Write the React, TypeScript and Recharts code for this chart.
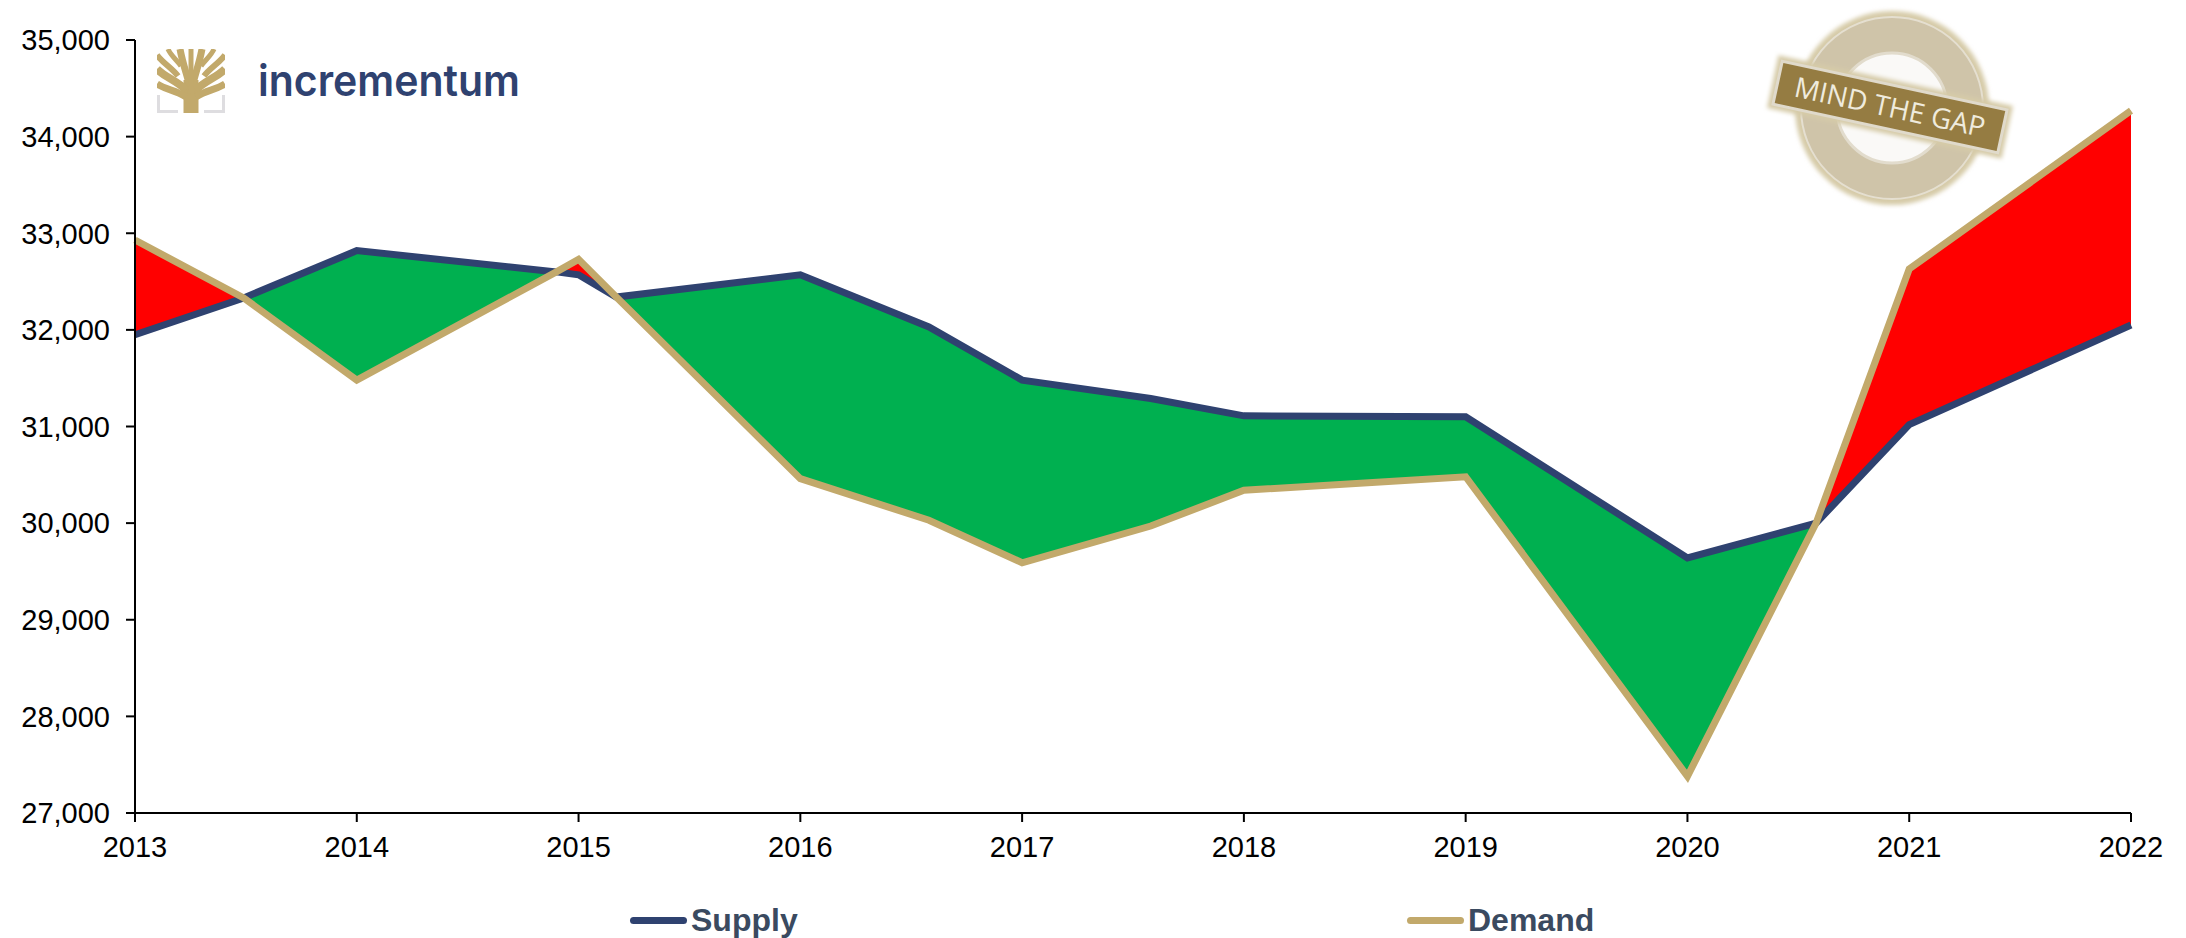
import React from 'react';
import { ComposedChart, Area, Line, XAxis, YAxis, Legend } from 'recharts';

// crossings and the two part-year points sit at fractional years
const years = [2013, 2013.49, 2014, 2014.9, 2015, 2015.17, 2016, 2016.58, 2017, 2017.58, 2018, 2019, 2020, 2020.58, 2021, 2022];
const supply = [31950, 32330, 32820, 32600, 32570, 32340, 32570, 32030, 31480, 31290, 31110, 31100, 29640, 30000, 31020, 32050];
const demand = [32930, 32330, 31480, 32600, 32730, 32340, 30460, 30030, 29590, 29970, 30340, 30480, 27380, 30000, 32630, 34270];

const xTicks = [2013, 2014, 2015, 2016, 2017, 2018, 2019, 2020, 2021, 2022];
const yTicks = [27000, 28000, 29000, 30000, 31000, 32000, 33000, 34000, 35000];

const rows = years.map((year, i) => ({
  year,
  supply: supply[i],
  demand: demand[i],
  surplus: supply[i] >= demand[i] ? [demand[i], supply[i]] : null,
  deficit: demand[i] >= supply[i] ? [supply[i], demand[i]] : null,
}));

const NAVY = '#2F4270';
const GOLD = '#C2A96B';
const FONT = '"Liberation Sans", Arial, sans-serif';

const legendKeys = ['supply', 'demand'];
const legendLefts = [630, 1407];

const renderLegend = (props: any) => {
  const payload = props.payload || [];
  return (
    <div style={{ position: 'relative', width: 2186, height: 60 }}>
      {legendKeys.map((key, i) => {
        const item = payload.find((p: any) => p.dataKey === key);
        if (!item) return null;
        return (
          <div key={key} style={{ position: 'absolute', left: legendLefts[i], top: 12, display: 'flex', alignItems: 'center', height: 60 }}>
            <span style={{ display: 'block', width: 57, height: 7, borderRadius: 4, background: item.color, marginRight: 4 }} />
            <span style={{ font: `bold 32px ${FONT}`, color: '#3A4A60' }}>{item.value}</span>
          </div>
        );
      })}
    </div>
  );
};

const Branding = () => (
  <svg width={2186} height={938} style={{ position: 'absolute', left: 0, top: 0, pointerEvents: 'none' }}>
    <defs>
      <clipPath id="treeClip">
        <rect x={157} y={49} width={68} height={64} />
      </clipPath>
      <filter id="soft" x="-10%" y="-10%" width="120%" height="120%">
        <feGaussianBlur stdDeviation="2" />
      </filter>
    </defs>

    <g fill="none" stroke="#DEDDE0" strokeWidth={3}>
      <path d="M158.5 95 V111.5 H178" />
      <path d="M223.5 95 V111.5 H204" />
    </g>
    <g clipPath="url(#treeClip)" fill="none" stroke="#C2A96B" strokeLinecap="butt">
      <path d="M191 113 V80" strokeWidth={15} />
      <path d="M191 94 C189 78 184 70 180 49" strokeWidth={7} />
      <path d="M191 94 C193 78 198 70 202 49" strokeWidth={7} />
      <path d="M191 84 V49" strokeWidth={5} />
      <path d="M186 90 C176 80 166 78 157 69" strokeWidth={8} />
      <path d="M196 90 C206 80 216 78 225 69" strokeWidth={8} />
      <path d="M186 97 C176 90 166 90 157 84" strokeWidth={7} />
      <path d="M196 97 C206 90 216 90 225 84" strokeWidth={7} />
      <path d="M178 76 C172 68 164 64 157 55" strokeWidth={6} />
      <path d="M204 76 C210 68 218 64 225 55" strokeWidth={6} />
      <path d="M181 66 C177 60 171 56 168 49" strokeWidth={5} />
      <path d="M201 66 C205 60 211 56 214 49" strokeWidth={5} />
    </g>
    <text x={258} y={96} textLength={262} lengthAdjust="spacingAndGlyphs" fontFamily="Inter, sans-serif" fontWeight={600} fontSize={43} fill={NAVY}>
      incrementum
    </text>

    <circle cx={1892} cy={108} r={97} fill="#D6CBA8" filter="url(#soft)" />
    <circle cx={1892} cy={108} r={91} fill="#CFC4A9" stroke="#E5DFD0" strokeWidth={2} />
    <circle cx={1892} cy={108} r={55} fill="#FAF9F7" stroke="#E2DCCD" strokeWidth={3} />
    <g transform="rotate(12.2 1890 107)">
      <rect x={1770} y={80} width={240} height={54} fill="#D6CBA8" filter="url(#soft)" />
      <rect x={1775} y={85} width={230} height={44} fill="#957C42" stroke="#E0DACB" strokeWidth={3} />
      <text x={1890} y={117} textAnchor="middle" textLength={194} lengthAdjust="spacingAndGlyphs" fontFamily="'Open Sans', sans-serif" fontSize={28} fill="#EFEBDD">
        MIND THE GAP
      </text>
    </g>
  </svg>
);

export default function App() {
  return (
    <div style={{ position: 'absolute', left: 0, top: 0, width: 2186, height: 938, background: '#fff' }}>
      <ComposedChart width={2186} height={938} data={rows} margin={{ top: 40, right: 55, bottom: 0, left: 0 }}>
        <XAxis
          dataKey="year"
          type="number"
          domain={[2013, 2022]}
          ticks={xTicks}
          interval={0}
          height={65}
          tickSize={9}
          tickMargin={14}
          tick={{ fill: '#000', fontSize: 29, fontFamily: FONT }}
          axisLine={{ stroke: '#000', strokeWidth: 2 }}
          tickLine={{ stroke: '#000', strokeWidth: 2 }}
        />
        <YAxis
          type="number"
          domain={[27000, 35000]}
          ticks={yTicks}
          interval={0}
          width={135}
          tickSize={9}
          tickMargin={16}
          tickFormatter={(v: number) => v.toLocaleString('en-US')}
          tick={{ fill: '#000', fontSize: 29, fontFamily: FONT }}
          axisLine={{ stroke: '#000', strokeWidth: 2 }}
          tickLine={{ stroke: '#000', strokeWidth: 2 }}
        />
        <Legend verticalAlign="bottom" height={60} content={renderLegend} wrapperStyle={{ left: 0, width: 2186 }} />
        <Area dataKey="surplus" type="linear" fill="#00B050" fillOpacity={1} stroke="none" legendType="none" isAnimationActive={false} />
        <Area dataKey="deficit" type="linear" fill="#FF0000" fillOpacity={1} stroke="none" legendType="none" isAnimationActive={false} />
        <Line dataKey="supply" name="Supply" type="linear" stroke={NAVY} strokeWidth={7} dot={false} strokeLinejoin="miter" isAnimationActive={false} />
        <Line dataKey="demand" name="Demand" type="linear" stroke={GOLD} strokeWidth={7} dot={false} strokeLinejoin="miter" isAnimationActive={false} />
      </ComposedChart>
      <Branding />
    </div>
  );
}
